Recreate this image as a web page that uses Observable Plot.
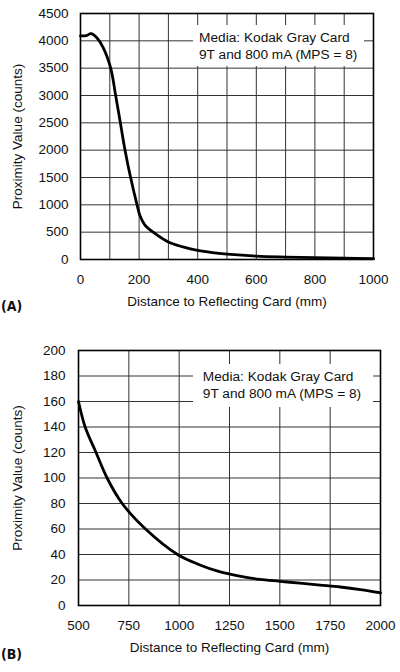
<!DOCTYPE html>
<html>
<head>
<meta charset="utf-8">
<script src="https://cdn.jsdelivr.net/npm/d3@7"></script>
<script src="https://cdn.jsdelivr.net/npm/@observablehq/plot@0.6"></script>
<style>
  body { margin: 0; background: #fff; font-family: "Liberation Sans", Arial, sans-serif; }
  #wrap { position: relative; width: 400px; height: 672px; }
  #chartA, #chartB { position: absolute; left: 0; }
  #chartA { top: 0; }
  #chartB { top: 330px; }
  .note { position: absolute; background: #fff; font-size: 13.7px; line-height: 17px; color: #111; padding: 4px 0 0 6px; box-sizing: border-box; white-space: nowrap; }
  .tag { position: absolute; left: 1px; font-family: "Liberation Sans Narrow", "DejaVu Sans Condensed", sans-serif; font-weight: bold; font-size: 14px; color: #111; }
</style>
</head>
<body>
<div id="wrap">
  <div id="chartA"></div>
  <div id="chartB"></div>
  <div class="note" style="left:193px;top:25px;width:171px;height:41px">Media: Kodak Gray Card<br>9T and 800 mA (MPS = 8)</div>
  <div class="note" style="left:193px;top:364px;width:180px;height:43px">&nbsp;Media: Kodak Gray Card<br>&nbsp;9T and 800 mA (MPS = 8)</div>
  <div class="tag" style="top:298px">(A)</div>
  <div class="tag" style="top:646px">(B)</div>
</div>
<script>
// panel A: 0 - 1000 mm
const distA = [0, 20, 36, 55, 77, 103, 120, 136, 152, 171, 193, 203, 220, 248, 300, 350, 400, 450, 500, 600, 700, 800, 900, 1000]
const countsA = [4090, 4095, 4130, 4060, 3880, 3500, 3000, 2500, 2000, 1500, 1000, 800, 630, 500, 320, 230, 165, 125, 98, 62, 45, 33, 24, 16]
const xTicksA = [0, 200, 400, 600, 800, 1000]
const xGridA = [100, 200, 300, 400, 500, 600, 700, 800, 900]
const yTicksA = [0, 500, 1000, 1500, 2000, 2500, 3000, 3500, 4000, 4500]

// panel B: 500 - 2000 mm
const distB = [500, 533, 587, 642, 717, 833, 992, 1100, 1200, 1300, 1400, 1500, 1600, 1700, 1800, 1900, 2000]
const countsB = [160, 140, 120, 100, 80, 60, 40, 32, 26.5, 23, 20.5, 19, 17.5, 16, 14.5, 12.5, 10]
const xTicksB = [500, 750, 1000, 1250, 1500, 1750, 2000]
const yTicksB = [0, 20, 40, 60, 80, 100, 120, 140, 160, 180, 200]

const xLabel = "Distance to Reflecting Card (mm)"
const yLabel = "Proximity Value (counts)"

const rowsA = distA.map((d, i) => ({d, v: countsA[i]}))
const rowsB = distB.map((d, i) => ({d, v: countsB[i]}))

const baseStyle = {fontFamily: "Liberation Sans, Arial, sans-serif", fontSize: "13.5px", color: "#111", background: "#fff"}
const fmt = d3.format("d")

let chartA = Plot.plot({
  width: 400,
  height: 330,
  marginTop: 13,
  marginLeft: 80,
  marginRight: 27,
  marginBottom: 71,
  style: baseStyle,
  x: {domain: [0, 1000]},
  y: {domain: [0, 4500]},
  marks: [
    Plot.gridX(xGridA, {stroke: "#333", strokeOpacity: 1}),
    Plot.gridY(yTicksA, {stroke: "#333", strokeOpacity: 1}),
    Plot.axisX(xTicksA, {tickSize: 0, tickPadding: 15, tickFormat: fmt, label: xLabel, labelAnchor: "center", labelArrow: "none", labelOffset: 46}),
    Plot.axisY(yTicksA, {tickSize: 0, tickPadding: 12, tickFormat: fmt, label: yLabel, labelAnchor: "center", labelArrow: "none", labelOffset: 68}),
    Plot.line(rowsA, {x: "d", y: "v", curve: "catmull-rom", stroke: "#000", strokeWidth: 2.8}),
    Plot.frame({stroke: "#000", strokeWidth: 1.6})
  ]
})
d3.select('#chartA').append(() => chartA)

let chartB = Plot.plot({
  width: 400,
  height: 342,
  marginTop: 20,
  marginLeft: 78,
  marginRight: 20,
  marginBottom: 67,
  style: baseStyle,
  x: {domain: [500, 2000]},
  y: {domain: [0, 200]},
  marks: [
    Plot.gridX(xTicksB, {stroke: "#333", strokeOpacity: 1}),
    Plot.gridY(yTicksB, {stroke: "#333", strokeOpacity: 1}),
    Plot.axisX(xTicksB, {tickSize: 0, tickPadding: 15, tickFormat: fmt, label: xLabel, labelAnchor: "center", labelArrow: "none", labelOffset: 46}),
    Plot.axisY(yTicksB, {tickSize: 0, tickPadding: 13, tickFormat: fmt, label: yLabel, labelAnchor: "center", labelArrow: "none", labelOffset: 66}),
    Plot.line(rowsB, {x: "d", y: "v", curve: "catmull-rom", stroke: "#000", strokeWidth: 2.8}),
    Plot.frame({stroke: "#000", strokeWidth: 1.6})
  ]
})
d3.select('#chartB').append(() => chartB)
</script>
</body>
</html>
